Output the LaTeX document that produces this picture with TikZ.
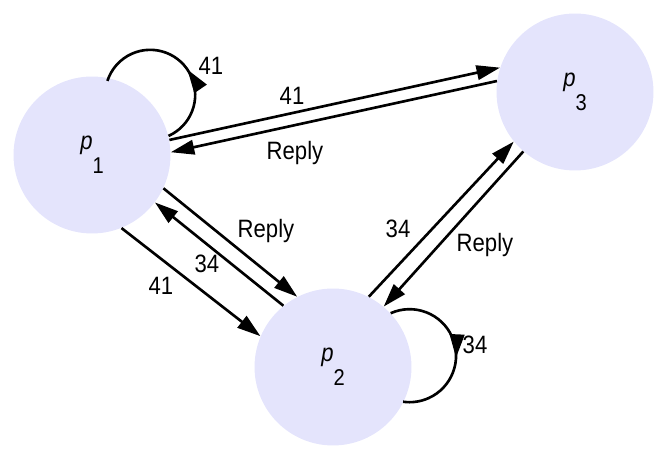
\documentclass[tikz,border=0pt]{standalone}
\usepackage{fontspec}
\setmainfont{Liberation Sans}[FakeStretch=0.88]
\usetikzlibrary{arrows.meta,decorations.markings}
\definecolor{procfill}{RGB}{228,228,252}
\newcommand{\procname}[1]{\textit{p}\raisebox{-13.5pt}{\fontsize{13}{13}\selectfont #1}}

\begin{document}
\begin{tikzpicture}[x=0.02cm,y=0.02cm]
      \tikzset{
        every node/.style={font=\fontsize{14.3}{16}\selectfont},
        proc/.style={circle,fill=procfill,inner sep=0pt,minimum size=3.14cm},
        lbl/.style={inner sep=0pt},
        msg/.style={line width=1.5pt,-{Triangle[length=0.47cm,width=0.29cm]}},
        selfmsg/.style={line width=1.5pt,postaction={decorate},
          decoration={markings,mark=at position #1 with {\arrow{Triangle[length=0.47cm,width=0.29cm]}}}}
      }
      \useasboundingbox (0,0) rectangle (666,459);

      \node[proc] (p1) at (92,304) {\procname{1}};
      \node[proc] (p2) at (333,92) {\procname{2}};
      \node[proc] (p3) at (575,367) {\procname{3}};

      % p1 <-> p3
      \draw[msg] (p1.11) -- (p3.162);
      \draw[msg] (p3.172) -- (p1.2);
      % p1 <-> p2
      \draw[msg] (p1.-68) -- (p2.157);
      \draw[msg] (p2.129) -- (p1.-37);
      \draw[msg] (p1.-25) -- (p2.117);
      % p2 <-> p3
      \draw[msg] (p2.63) -- (p3.-141);
      \draw[msg] (p3.-131) -- (p2.50);
      % self loops
      \draw[selfmsg=0.44] (p1.14) arc[start angle=-66,end angle=162,radius=0.9cm];
      \draw[selfmsg=0.55] (p2.43) arc[start angle=114,end angle=-98,radius=0.93cm];

      \node[lbl] (l11) at (211,393) {41};
      \node[lbl] (l13) at (292,363) {41};
      \node[lbl] (l31) at (295,306) {Reply};
      \node[lbl] (l12r) at (266,228) {Reply};
      \node[lbl] (l21) at (207,195) {34};
      \node[lbl] (l12) at (161,173) {41};
      \node[lbl] (l23) at (398,230) {34};
      \node[lbl] (l32) at (485,214) {Reply};
      \node[lbl] (l22) at (475,114) {34};
    \end{tikzpicture}
\end{document}
